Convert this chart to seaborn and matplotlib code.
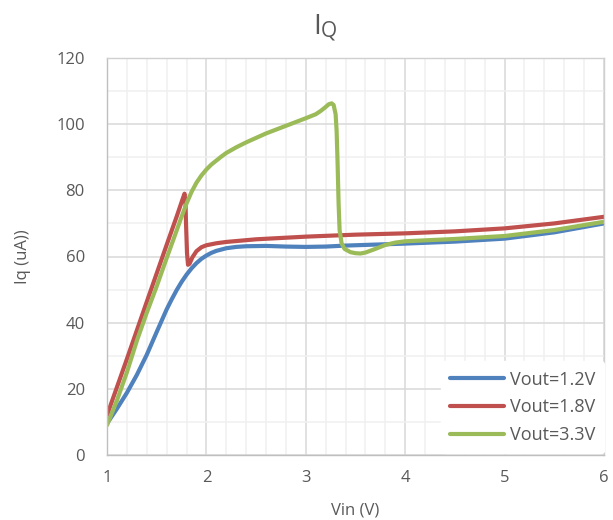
import matplotlib
matplotlib.use("Agg")
import matplotlib.pyplot as plt
import seaborn as sns
import pandas as pd
from matplotlib.ticker import MultipleLocator

# ---- data ----
vin_12 = [1.0, 1.1, 1.2, 1.3, 1.4, 1.5, 1.6, 1.65, 1.7, 1.75, 1.8, 1.85, 1.9, 1.95, 2.0,
          2.05, 2.1, 2.2, 2.3, 2.4, 2.6, 2.8, 3.0, 3.2, 3.4, 3.6, 3.8, 4.0, 4.5, 5.0, 5.5, 6.0]
iq_12 = [9.5, 14.0, 18.8, 24.2, 30.3, 37.2, 44.0, 47.0, 49.8, 52.3, 54.5, 56.4, 58.0, 59.3, 60.3,
         61.1, 61.7, 62.5, 62.9, 63.1, 63.2, 63.0, 62.9, 63.0, 63.3, 63.5, 63.7, 63.9, 64.5, 65.4,
         67.3, 70.0]

vin_18 = [1.0, 1.2, 1.4, 1.6, 1.7, 1.76, 1.78, 1.79, 1.795, 1.805, 1.815, 1.83, 1.86, 1.9,
          1.95, 2.0, 2.1, 2.2, 2.5, 3.0, 3.5, 4.0, 4.5, 5.0, 5.5, 6.0]
iq_18 = [12.0, 29.0, 46.3, 63.5, 72.0, 77.3, 79.0, 76.0, 70.0, 61.0, 57.5, 57.8, 59.8, 61.6,
         62.8, 63.4, 64.0, 64.4, 65.2, 66.0, 66.6, 67.0, 67.6, 68.5, 70.0, 72.0]

vin_33 = [1.0, 1.1, 1.2, 1.3, 1.4, 1.5, 1.6, 1.7, 1.75, 1.8, 1.85, 1.9, 1.95, 2.0, 2.05, 2.1,
          2.15, 2.2, 2.3, 2.4, 2.6, 2.8, 3.0, 3.1, 3.15, 3.2, 3.23, 3.26, 3.28, 3.3, 3.31, 3.32,
          3.33, 3.34, 3.36, 3.39, 3.45, 3.5, 3.55, 3.6, 3.7, 3.8, 3.9, 4.0, 4.5, 5.0, 5.5, 6.0]
iq_33 = [9.0, 16.5, 25.0, 34.5, 43.0, 51.0, 59.5, 67.8, 72.0, 76.0, 79.5, 82.3, 84.5, 86.3,
         87.8, 89.0, 90.2, 91.3, 93.0, 94.5, 97.2, 99.5, 101.8, 103.0, 104.0, 105.2, 106.0, 106.3,
         105.8, 103.0, 98.0, 88.0, 76.0, 68.0, 64.0, 62.3, 61.3, 61.0, 60.9, 61.2, 62.3, 63.5,
         64.2, 64.6, 65.3, 66.2, 68.0, 70.5]

series_names = ["Vout=1.2V", "Vout=1.8V", "Vout=3.3V"]
colors = ["#4F81BD", "#C0504D", "#9BBB59"]

x_ticks = [1, 2, 3, 4, 5, 6]
y_ticks = [0, 20, 40, 60, 80, 100, 120]

frames = []
for name, xs, ys in zip(series_names, [vin_12, vin_18, vin_33], [iq_12, iq_18, iq_33]):
    frames.append(pd.DataFrame({"Vin": xs, "Iq": ys, "series": name}))
df = pd.concat(frames, ignore_index=True)

sns.set_theme(style="white")
plt.rcParams["font.family"] = ["Open Sans", "DejaVu Sans"]

fig = plt.figure(figsize=(6.13, 5.20), dpi=100)
ax = fig.add_axes([107 / 613, 65 / 520, 497 / 613, 397 / 520])

sns.lineplot(data=df, x="Vin", y="Iq", hue="series", hue_order=series_names,
             palette=colors, sort=False, estimator=None, units="series",
             linewidth=3.0, ax=ax)
for ln in ax.lines:
    ln.set_solid_joinstyle("round")
    ln.set_solid_capstyle("round")

ax.set_xlim(1, 6)
ax.set_ylim(0, 120)
ax.set_xticks(x_ticks)
ax.set_yticks(y_ticks)
ax.xaxis.set_minor_locator(MultipleLocator(0.2))
ax.yaxis.set_minor_locator(MultipleLocator(10))
ax.grid(which="major", color="#d9d9d9", linewidth=1.1)
ax.grid(which="minor", color="#f0f0f0", linewidth=1.1)
ax.set_axisbelow(True)
for s in ax.spines.values():
    s.set_color("#d0d0d0")
    s.set_linewidth(1.0)
ax.spines["left"].set_color("#bfbfbf")
ax.spines["bottom"].set_color("#bfbfbf")

ax.tick_params(which="both", length=0, colors="#595959", labelsize=12)
ax.tick_params(axis="y", pad=16)
ax.tick_params(axis="x", pad=11)

ax.set_xlabel("Vin (V)", fontsize=12, color="#595959", labelpad=12)
ax.set_ylabel("Iq (uA))", fontsize=12, color="#595959", labelpad=18)

fig.text(313 / 613, 1 - 34 / 520, "I", ha="left", va="baseline",
         fontsize=20, color="#595959")
fig.text(321 / 613, 1 - 37 / 520, "Q", ha="left", va="baseline",
         fontsize=15, color="#595959")

leg = ax.legend(loc="lower right", bbox_to_anchor=(1.0, 0.004), borderaxespad=0,
                frameon=True, fontsize=13, handlelength=3.0, handletextpad=0.3,
                labelspacing=0.55, borderpad=0.5)
leg.get_frame().set_facecolor("white")
leg.get_frame().set_edgecolor("white")
leg.get_frame().set_alpha(1.0)
for t in leg.get_texts():
    t.set_color("#595959")
for h in leg.legend_handles:
    h.set_linewidth(3.0)

fig.savefig("out.png", dpi=100)
